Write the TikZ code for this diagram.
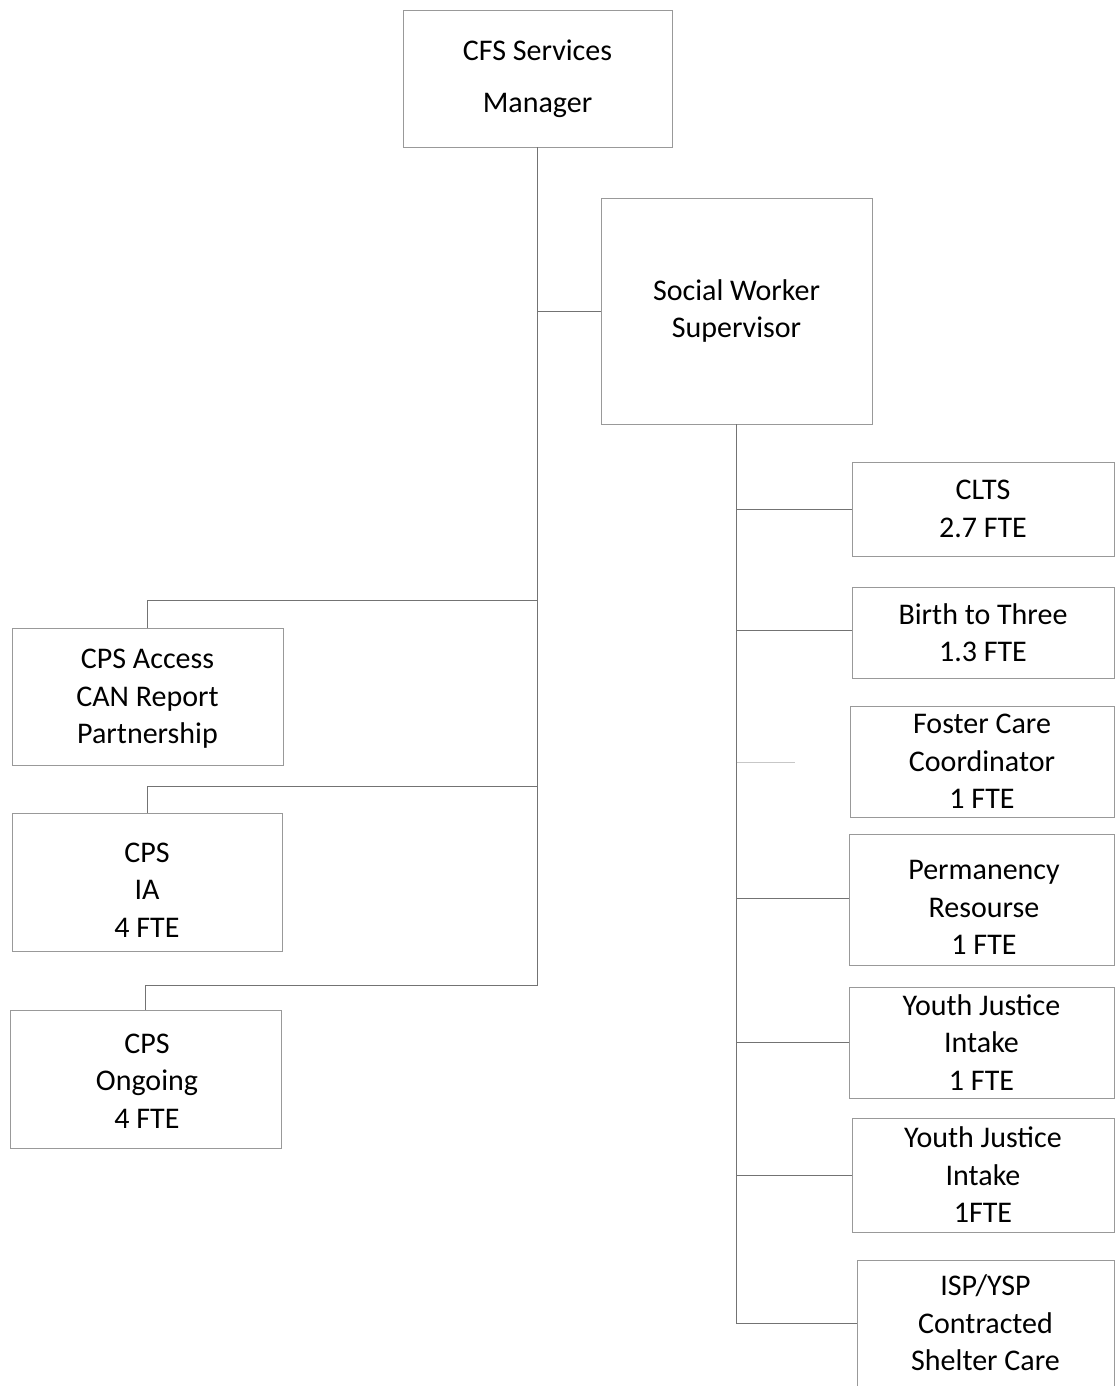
\documentclass[tikz,border=0pt]{standalone}
\usepackage{fontspec}
\setmainfont{Carlito}
\begin{document}
\begin{tikzpicture}[x=1pt,y=-1pt,
  box/.style={draw=black!40, line width=0.9pt, rectangle, inner sep=0pt, align=center,
    font=\fontsize{30}{37.5}\selectfont, text=black},
  txt/.style={inner sep=0pt, align=center, font=\fontsize{30}{37.5}\selectfont, text=black},
  conn/.style={draw=black!55, line width=1pt},
  faint/.style={draw=black!22, line width=1pt}]
\useasboundingbox (0,0) rectangle (1116,1386);
\fill[white] (0,0) rectangle (1116,1386);
% top level
\node[box, minimum width=269pt, minimum height=137pt, font=\fontsize{30}{52}\selectfont] (cfs) at (537.5,78.5) {CFS Services\\Manager};
\node[box, minimum width=271pt, minimum height=226pt] (sws) at (736.5,311) {Social Worker\\Supervisor};
% left column
\node[box, minimum width=271pt, minimum height=137pt] (acc) at (147.5,696.5) {};
\node[txt] (acct) at (147.5,699) {CPS Access\\CAN Report\\Partnership};
\node[box, minimum width=270pt, minimum height=138pt] (ia) at (147,882) {};
\node[txt] (iat) at (147,890) {CPS\\IA\\4 FTE};
\node[box, minimum width=271pt, minimum height=138pt] (ong) at (145.5,1079) {};
\node[txt] (ongt) at (147,1081) {CPS\\Ongoing\\4 FTE};
% right column
\node[box, minimum width=262pt, minimum height=94pt] (clts) at (983,509) {CLTS\\2.7 FTE};
\node[box, minimum width=262pt, minimum height=91pt] (btt) at (983,632.5) {Birth to Three\\1.3 FTE};
\node[box, minimum width=264pt, minimum height=111pt] (fcc) at (982,761.5) {Foster Care\\Coordinator\\1 FTE};
\node[box, minimum width=265pt, minimum height=131pt] (perm) at (981.5,899.5) {};
\node[txt] (permt) at (984,907.5) {Permanency\\Resourse\\1 FTE};
\node[box, minimum width=265pt, minimum height=111pt] (yj1) at (981.5,1042.5) {Youth Justice\\Intake\\1 FTE};
\node[box, minimum width=262pt, minimum height=114pt] (yj2) at (983,1175) {Youth Justice\\Intake\\1FTE};
\node[box, minimum width=257pt, minimum height=126pt] (isp) at (985.5,1323) {ISP/YSP\\Contracted\\Shelter Care};
% connectors from manager
\coordinate (jend) at (537.5,985);
\draw[conn] (cfs.south) -- (jend);
\draw[conn] (cfs.south |- sws.west) -- (sws.west);
\draw[conn] (cfs.south |- 0,600) -| (acc.north);
\draw[conn] (cfs.south |- 0,786) -| (ia.north);
\draw[conn] (jend) -| (ong.north);
% connectors from supervisor
\draw[conn] (sws.south) -- (sws.south |- isp.west) -- (isp.west);
\draw[conn] (sws.south |- clts.west) -- (clts.west);
\draw[conn] (sws.south |- 0,630) -- (btt.west |- 0,630);
\coordinate (fend) at (795,762);
\draw[faint] (sws.south |- fend) -- (fend);
\draw[conn] (sws.south |- 0,898) -- (perm.west |- 0,898);
\draw[conn] (sws.south |- yj1.west) -- (yj1.west);
\draw[conn] (sws.south |- yj2.west) -- (yj2.west);
\end{tikzpicture}
\end{document}
